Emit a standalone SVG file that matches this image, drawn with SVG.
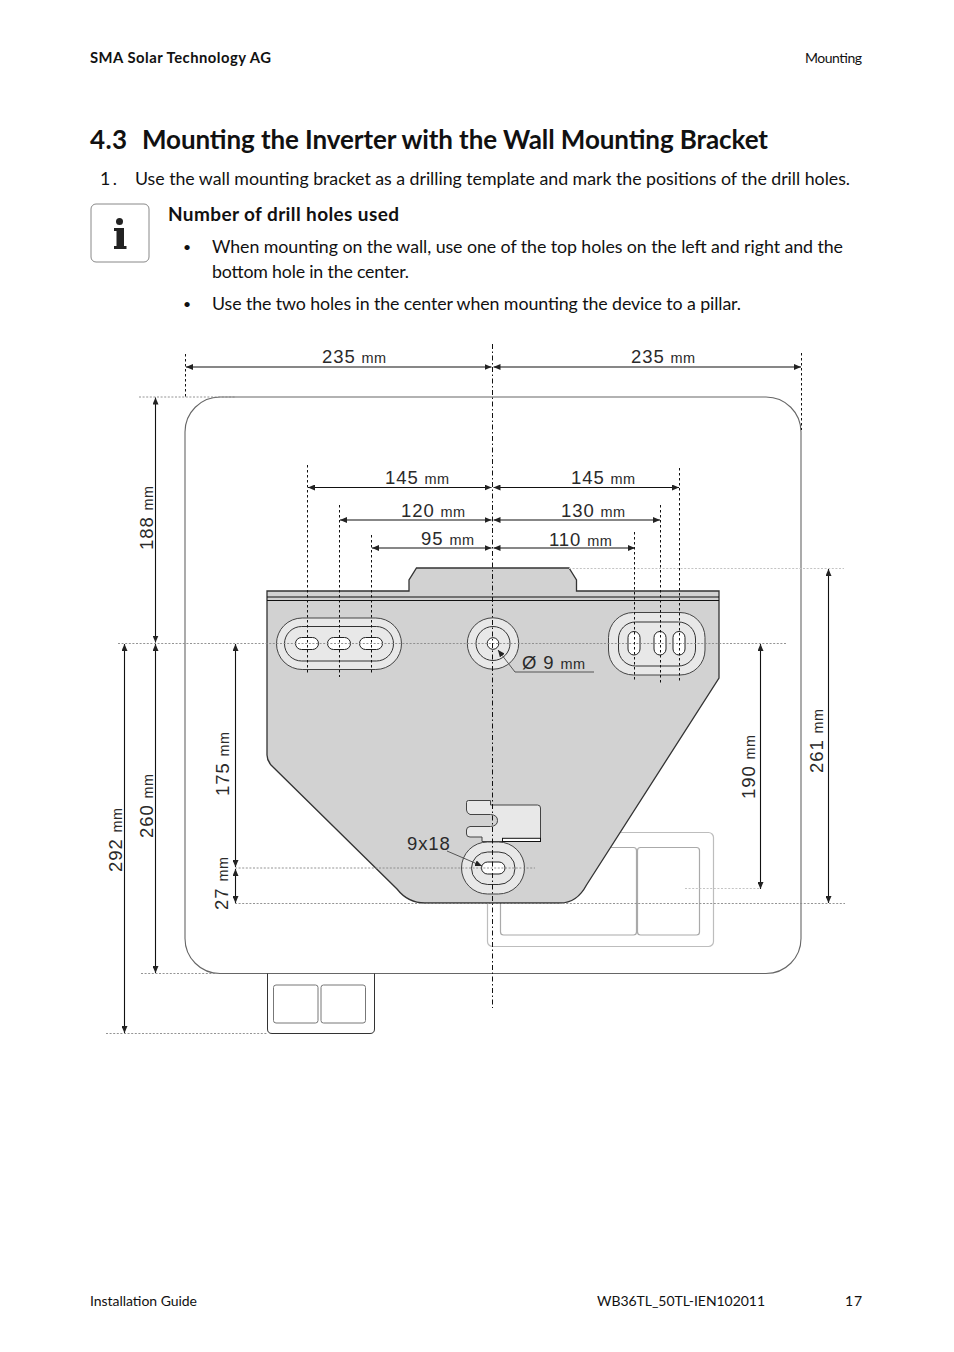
<svg xmlns="http://www.w3.org/2000/svg" width="954" height="1352" viewBox="0 0 954 1352">
<style>
text{font-family:"Lato","Noto Sans",sans-serif;fill:#111}
.b{font-weight:700}
.body{font-size:17.8px}
.small{font-size:14px}
.bullet{font-size:14px}
.dim{font-family:"Liberation Sans",Arial,sans-serif;font-size:18.5px;fill:#2a2a2a;letter-spacing:.9px}
.dim tspan{font-size:14.5px;letter-spacing:.4px}
.o{fill:none;stroke:#333;stroke-width:1}
.body-line{fill:#fff;stroke:#666;stroke-width:1.100}
.g{fill:none;stroke:#bdbdbd;stroke-width:1.200}
.g2{fill:#fff;stroke:#aaa;stroke-width:1.200}
.hole{fill:#fff;stroke:#222;stroke-width:1}
.soft{fill:#e8e8e8;stroke:#444;stroke-width:1}
.arrow{fill:none;stroke:#111;stroke-width:1.100;marker-start:url(#ah);marker-end:url(#ah)}
.arrowe{fill:none;stroke:#555;stroke-width:1;marker-end:url(#ah)}
.v{stroke:#111;stroke-width:1;stroke-dasharray:2.500 2.500;fill:none}
.c{stroke:#111;stroke-width:1;stroke-dasharray:5 2.500 1.500 2.500;fill:none}
.h{stroke:#888;stroke-width:.9;stroke-dasharray:2 1.600;fill:none}
.hl{stroke:#c4c4c4;stroke-width:1;stroke-dasharray:2 1.600;fill:none}
</style>
<defs>
<marker id="ah" viewBox="0 0 7 6" markerWidth="7" markerHeight="6" markerUnits="userSpaceOnUse" refX="7" refY="3" orient="auto-start-reverse"><path d="M0 0L7 3L0 6Z" fill="#222"/></marker>
</defs>
<rect width="954" height="1352" fill="#fff"/>

<g id="page-text">
<text class="b" x="90" y="63" font-size="14.800" textLength="181" lengthAdjust="spacing">SMA Solar Technology AG</text>
<text class="small" x="805" y="63" textLength="57">Mounting</text>
<text class="b" x="90" y="149" font-size="26" textLength="37">4.3</text>
<text class="b" x="142" y="149" font-size="26" textLength="626">Mounting the Inverter with the Wall Mounting Bracket</text>
<text class="body" x="100" y="185" textLength="17">1.</text>
<text class="body" x="135" y="185" textLength="715">Use the wall mounting bracket as a drilling template and mark the positions of the drill holes.</text>
<text class="b" font-size="19" x="168" y="221" textLength="231">Number of drill holes used</text>
<text class="bullet" x="183" y="252">•</text>
<text class="body" x="212" y="253" textLength="631">When mounting on the wall, use one of the top holes on the left and right and the</text>
<text class="body" x="212" y="278" textLength="197">bottom hole in the center.</text>
<text class="bullet" x="183" y="309">•</text>
<text class="body" x="212" y="310" textLength="529">Use the two holes in the center when mounting the device to a pillar.</text>
<text class="small" x="90" y="1306" textLength="107">Installation Guide</text>
<text class="small" x="597" y="1306" textLength="168">WB36TL_50TL-IEN102011</text>
<text class="small" x="845" y="1306" textLength="17">17</text>
</g>

<g id="info-icon">
<rect x="91" y="204" width="58" height="58" rx="5" fill="#fff" stroke="#888" stroke-width="1"/>
<circle cx="119.500" cy="221.500" r="3.500" fill="#222"/>
<path d="M114 228H124V246H126.500V249H114V246H116.500V231H114Z" fill="#222"/>
</g>

<g id="inverter-body">
<rect class="body-line" x="185" y="397" width="616" height="576.500" rx="35"/>
</g>
<g id="rear-box-left">
<path class="o" d="M267.500 973.500V1029Q267.500 1033.500 272 1033.500H370Q374.500 1033.500 374.500 1029V973.500" stroke="#555"/>
<rect x="273.500" y="985" width="44.500" height="38" rx="2.500" fill="#fff" stroke="#777"/>
<rect x="321" y="985" width="44.500" height="38" rx="2.500" fill="#fff" stroke="#777"/>
</g>
<g id="rear-box-right">
<rect class="g" x="487.500" y="832.500" width="226" height="114" rx="5"/>
<rect class="g2" x="500.500" y="847.500" width="136" height="87.500" rx="3"/>
<rect class="g2" x="637.500" y="847.500" width="62" height="87.500" rx="3"/>
</g>

<g id="bracket-plate">
<path d="M267 591H409V580L416.500 568H569L576.500 580V591H719V678L586.500 885Q577 903 560 903H425Q408 903 397 889L271 765Q267 760 267 755Z" fill="#d2d2d2" stroke="#333" stroke-width="1.300"/>
<path d="M267 597H719M267 600.500H719" stroke="#111" stroke-width="1" fill="none"/>
</g>
<g id="slot-left">
<rect class="soft" x="276.500" y="618" width="125" height="51.500" rx="25.700"/>
<rect class="o" x="284.500" y="626.500" width="109" height="34.500" rx="17.200"/>
<rect class="hole" x="295.500" y="637.500" width="23" height="12" rx="6"/>
<rect class="hole" x="327.500" y="637.500" width="23" height="12" rx="6"/>
<rect class="hole" x="359.500" y="637.500" width="23" height="12" rx="6"/>
</g>
<g id="hole-center">
<circle class="soft" cx="493" cy="643.500" r="25.700"/>
<circle class="o" cx="493" cy="643.500" r="17"/>
<circle class="hole" cx="493" cy="643.500" r="5.800"/>
</g>
<g id="slot-right">
<rect class="soft" x="608.500" y="612.500" width="96.500" height="62.500" rx="25"/>
<rect class="o" x="618.500" y="622" width="77" height="44" rx="17"/>
<rect class="hole" x="628" y="631.500" width="12" height="23.500" rx="6"/>
<rect class="hole" x="654" y="631.500" width="12" height="23.500" rx="6"/>
<rect class="hole" x="673" y="631.500" width="12" height="23.500" rx="6"/>
</g>
<g id="clip">
<path class="soft" d="M466.500 802.500Q466.500 800.500 468.500 800.500H490.500V805H537.500Q540.500 805 540.500 808V841.500H482V837H470Q466.500 837 466.500 834V830Q466.500 827 470 826.500H490.500Q497.500 826 497.500 820.500Q497.500 815 490.500 814.500H470Q466.500 813 466.500 810Z"/>
<rect x="502.500" y="838.300" width="38" height="3.200" fill="#fff" stroke="#111"/>
</g>
<g id="slot-bottom">
<rect class="soft" x="461.500" y="842" width="63" height="52" rx="26"/>
<rect class="o" x="471.500" y="852" width="43.500" height="32.500" rx="16.200"/>
<rect class="hole" x="481.500" y="862" width="23.500" height="12" rx="6"/>
</g>

<g id="connectors">
<path class="hl" d="M569 568.500H844M685 888.500H760"/>
<path class="h" d="M139 397H235M118 643.500H787M235 868H535M235 903.500H845M141 973.500H216M106 1033.500H268"/>
<path class="v" d="M185.500 354V397M801.500 353V430M307.500 465V675M339.500 505V677M371.500 535V675M634.500 532V682M660.500 505V685M679.500 468V683"/>
<path class="c" d="M492.500 344V1008"/>
<path class="arrow" d="M186 367H491.500"/>
<path class="arrow" d="M493.500 367H801"/>
<path class="arrow" d="M308 487.500H491.500"/>
<path class="arrow" d="M493.500 487.500H679"/>
<path class="arrow" d="M340 520H491.500"/>
<path class="arrow" d="M493.500 520H660"/>
<path class="arrow" d="M372 548H491.500"/>
<path class="arrow" d="M493.500 548H635"/>
<path class="arrow" d="M155.500 397.500V642.500"/>
<path class="arrow" d="M155.500 644V973"/>
<path class="arrow" d="M124.500 644V1033"/>
<path class="arrow" d="M235.500 644V867"/>
<path class="arrow" d="M235.500 869V903"/>
<path class="arrow" d="M760.500 644V889"/>
<path class="arrow" d="M828.500 569V903"/>
<path class="arrowe" d="M594 672H515L498 650"/>
<path class="arrowe" d="M447 851L482 866"/>
</g>

<g id="labels">
<text class="dim" x="322" y="363">235 <tspan>mm</tspan></text>
<text class="dim" x="631" y="363">235 <tspan>mm</tspan></text>
<text class="dim" x="385" y="484">145 <tspan>mm</tspan></text>
<text class="dim" x="571" y="484">145 <tspan>mm</tspan></text>
<text class="dim" x="401" y="517">120 <tspan>mm</tspan></text>
<text class="dim" x="561" y="517">130 <tspan>mm</tspan></text>
<text class="dim" x="421" y="545">95 <tspan>mm</tspan></text>
<text class="dim" x="549" y="546">110 <tspan>mm</tspan></text>
<text class="dim" x="522" y="669">Ø 9 <tspan>mm</tspan></text>
<text class="dim" x="407" y="850">9x18</text>
<text class="dim" transform="translate(152.500 550) rotate(-90)">188 <tspan>mm</tspan></text>
<text class="dim" transform="translate(153 838) rotate(-90)">260 <tspan>mm</tspan></text>
<text class="dim" transform="translate(122 872) rotate(-90)">292 <tspan>mm</tspan></text>
<text class="dim" transform="translate(229 796) rotate(-90)">175 <tspan>mm</tspan></text>
<text class="dim" transform="translate(227.500 910) rotate(-90)">27 <tspan>mm</tspan></text>
<text class="dim" transform="translate(755 799) rotate(-90)">190 <tspan>mm</tspan></text>
<text class="dim" transform="translate(822.500 773) rotate(-90)">261 <tspan>mm</tspan></text>
</g>
</svg>
